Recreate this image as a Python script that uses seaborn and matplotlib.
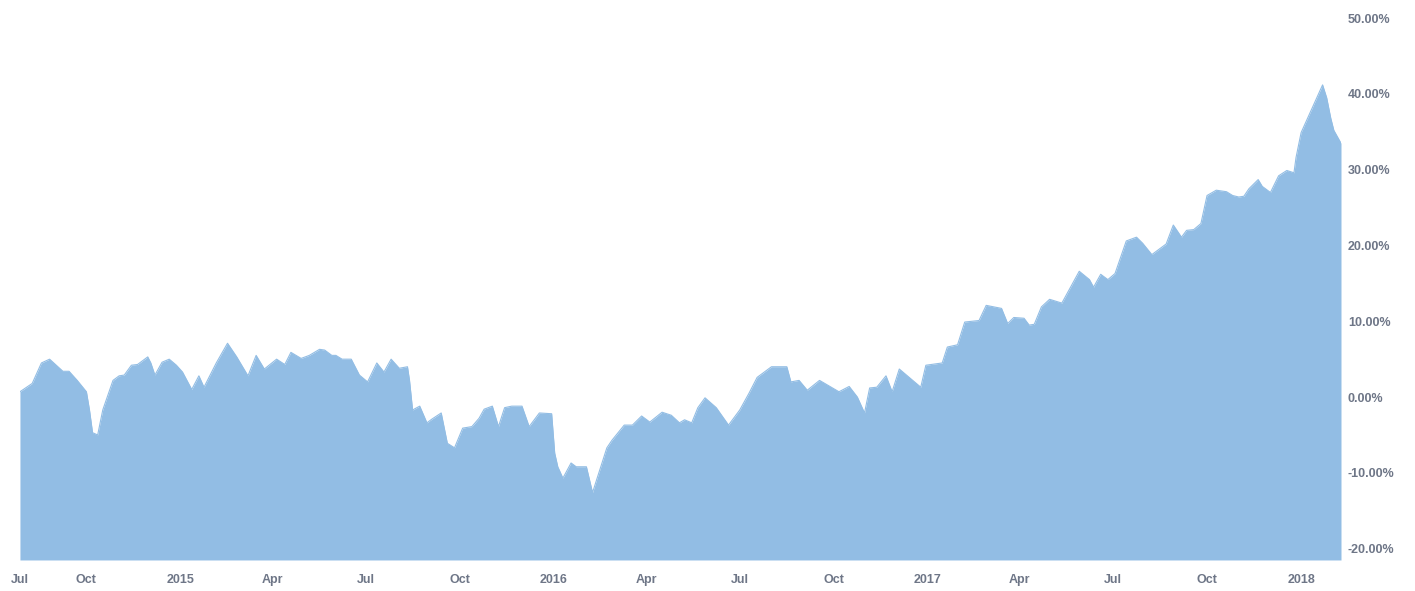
import numpy as np
import pandas as pd
import seaborn as sns
import matplotlib.dates as mdates
from matplotlib import pyplot as plt
from matplotlib.ticker import FuncFormatter

# datos (rentabilidad acumulada, %)
dates = [
    "2014-07-28", "2014-08-09", "2014-08-18", "2014-08-26", "2014-09-08", "2014-09-14",
    "2014-09-22", "2014-10-01", "2014-10-04", "2014-10-07", "2014-10-12", "2014-10-17",
    "2014-10-27", "2014-11-02", "2014-11-07", "2014-11-14", "2014-11-20", "2014-11-30",
    "2014-12-03", "2014-12-07", "2014-12-14", "2014-12-21", "2014-12-28", "2015-01-03",
    "2015-01-12", "2015-01-19", "2015-01-24", "2015-02-05", "2015-02-16", "2015-02-25",
    "2015-03-08", "2015-03-16", "2015-03-24", "2015-04-05", "2015-04-13", "2015-04-19",
    "2015-04-29", "2015-05-07", "2015-05-17", "2015-05-22", "2015-05-29", "2015-06-02",
    "2015-06-08", "2015-06-17", "2015-06-25", "2015-07-03", "2015-07-12", "2015-07-19",
    "2015-07-26", "2015-08-03", "2015-08-11", "2015-08-13", "2015-08-16", "2015-08-23",
    "2015-08-30", "2015-09-04", "2015-09-13", "2015-09-19", "2015-09-26", "2015-10-04",
    "2015-10-13", "2015-10-20", "2015-10-25", "2015-11-02", "2015-11-08", "2015-11-14",
    "2015-11-21", "2015-12-01", "2015-12-08", "2015-12-18", "2015-12-30", "2016-01-02",
    "2016-01-05", "2016-01-10", "2016-01-18", "2016-01-23", "2016-02-02", "2016-02-08",
    "2016-02-13", "2016-02-22", "2016-02-27", "2016-03-10", "2016-03-18", "2016-03-27",
    "2016-04-04", "2016-04-16", "2016-04-25", "2016-05-03", "2016-05-08", "2016-05-15",
    "2016-05-21", "2016-05-28", "2016-06-08", "2016-06-20", "2016-07-01", "2016-07-10",
    "2016-07-18", "2016-08-01", "2016-08-16", "2016-08-20", "2016-08-28", "2016-09-05",
    "2016-09-17", "2016-10-06", "2016-10-16", "2016-10-24", "2016-10-31", "2016-11-05",
    "2016-11-12", "2016-11-21", "2016-11-27", "2016-12-04", "2016-12-25", "2016-12-30",
    "2017-01-15", "2017-01-20", "2017-01-30", "2017-02-06", "2017-02-20", "2017-02-27",
    "2017-03-14", "2017-03-20", "2017-03-26", "2017-04-05", "2017-04-10", "2017-04-15",
    "2017-04-22", "2017-04-30", "2017-05-12", "2017-05-29", "2017-06-08", "2017-06-12",
    "2017-06-19", "2017-06-26", "2017-07-03", "2017-07-14", "2017-07-24", "2017-07-30",
    "2017-08-08", "2017-08-22", "2017-08-29", "2017-09-06", "2017-09-11", "2017-09-18",
    "2017-09-25", "2017-10-01", "2017-10-10", "2017-10-20", "2017-10-26", "2017-11-01",
    "2017-11-06", "2017-11-11", "2017-11-20", "2017-11-24", "2017-12-02", "2017-12-10",
    "2017-12-18", "2017-12-25", "2017-12-27", "2018-01-01", "2018-01-12", "2018-01-22",
    "2018-01-26", "2018-01-30", "2018-02-02", "2018-02-09",
]
returns = [
    0.7, 1.8, 4.5, 5.0, 3.4, 3.4,
    2.2, 0.7, -1.7, -4.7, -5.0, -1.7,
    2.2, 2.8, 2.9, 4.2, 4.3, 5.3,
    4.5, 2.9, 4.6, 5.0, 4.2, 3.3,
    1.0, 2.8, 1.3, 4.5, 7.1, 5.3,
    2.8, 5.5, 3.7, 5.0, 4.3, 5.9,
    5.1, 5.5, 6.3, 6.2, 5.5, 5.5,
    5.0, 5.0, 2.9, 2.0, 4.5, 3.3,
    5.0, 3.8, 4.0, 2.2, -1.7, -1.2,
    -3.4, -2.9, -2.1, -6.1, -6.7, -4.1,
    -3.9, -2.8, -1.6, -1.2, -3.9, -1.4,
    -1.2, -1.2, -3.9, -2.1, -2.2, -7.4,
    -9.2, -10.7, -8.7, -9.2, -9.2, -12.6,
    -10.5, -6.7, -5.7, -3.7, -3.7, -2.5,
    -3.3, -2.0, -2.4, -3.4, -3.0, -3.4,
    -1.4, -0.1, -1.4, -3.7, -1.7, 0.5,
    2.6, 4.0, 4.0, 2.0, 2.2, 0.9,
    2.2, 0.7, 1.4, 0.0, -2.1, 1.2,
    1.3, 2.8, 0.7, 3.7, 1.3, 4.2,
    4.5, 6.6, 6.9, 9.9, 10.1, 12.1,
    11.7, 9.7, 10.5, 10.4, 9.5, 9.6,
    11.9, 12.9, 12.4, 16.6, 15.5, 14.5,
    16.2, 15.5, 16.3, 20.6, 21.1, 20.3,
    18.8, 20.2, 22.7, 21.1, 22.0, 22.1,
    22.9, 26.6, 27.3, 27.1, 26.6, 26.4,
    26.5, 27.5, 28.7, 27.8, 27.0, 29.2,
    29.9, 29.6, 31.6, 34.9, 38.2, 41.2,
    39.5, 36.8, 35.2, 33.5,
]

tick_dates = ["2014-07-28", "2014-10-01", "2015-01-01", "2015-04-01", "2015-07-01",
              "2015-10-01", "2016-01-01", "2016-04-01", "2016-07-01", "2016-10-01",
              "2017-01-01", "2017-04-01", "2017-07-01", "2017-10-01", "2018-01-01"]
tick_labels = ["Jul", "Oct", "2015", "Apr", "Jul", "Oct", "2016", "Apr", "Jul", "Oct",
               "2017", "Apr", "Jul", "Oct", "2018"]
y_ticks = [-20, -10, 0, 10, 20, 30, 40, 50]

df = pd.DataFrame({"fecha": pd.to_datetime(dates), "retorno": returns})

sns.set_style("white")
plt.rcParams["font.family"] = ["Liberation Sans", "DejaVu Sans"]

azul = "#92bde4"
gris = "#6e7687"
y_min, y_max = -21.5, 52.4

fig = plt.figure(figsize=(14.15, 5.91), dpi=100)
ax = fig.add_axes([0.0141, 0.0525, 0.9336, 0.9475])

ax.fill_between(df["fecha"], df["retorno"], y_min, color=azul, linewidth=0)
sns.lineplot(x="fecha", y="retorno", data=df, ax=ax, color=azul, linewidth=0.8)

ax.set_xlim(df["fecha"].iloc[0], df["fecha"].iloc[-1])
ax.set_ylim(y_min, y_max)

ax.set_xticks(pd.to_datetime(tick_dates))
ax.set_xticklabels(tick_labels)
ax.set_yticks(y_ticks)
ax.yaxis.set_major_formatter(FuncFormatter(lambda v, p: f"{v:.2f}%"))
ax.yaxis.tick_right()

ax.tick_params(axis="x", length=0, pad=10, labelsize=9, labelcolor=gris)
ax.tick_params(axis="y", length=0, pad=5, labelsize=9, labelcolor=gris)
for lbl in ax.get_xticklabels() + ax.get_yticklabels():
    lbl.set_fontweight("bold")

ax.set_xlabel("")
ax.set_ylabel("")
sns.despine(ax=ax, left=True, bottom=True, right=True, top=True)
ax.grid(False)

fig.savefig("out.png", dpi=100)
